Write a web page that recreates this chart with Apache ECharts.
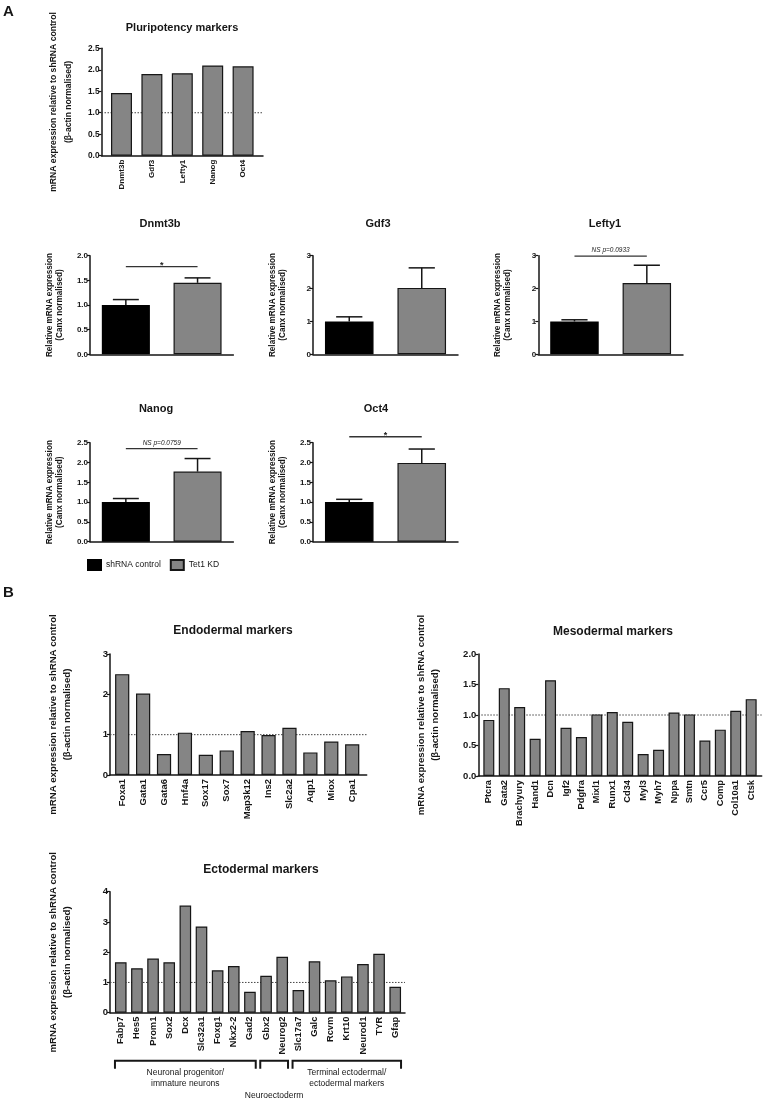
<!DOCTYPE html>
<html><head><meta charset="utf-8">
<script src="https://cdn.jsdelivr.net/npm/echarts@6/dist/echarts.min.js"></script>
<style>html,body{margin:0;padding:0;background:#fff}#c{width:764px;height:1102px}</style>
</head><body><div id="c"></div>
<script>
const FONT = '"Liberation Sans", Arial, Helvetica, sans-serif';
const INK = '#161616';
const GREY = '#858585';

// ---- Panel A: pluripotency summary ----
const pluriCats = ['Dnmt3b', 'Gdf3', 'Lefty1', 'Nanog', 'Oct4'];
const pluriVals = [1.46, 1.90, 1.92, 2.10, 2.08];

// ---- Panel A: individual genes (shRNA control vs Tet1 KD) ----
const geneNames = ['Dnmt3b', 'Gdf3', 'Lefty1', 'Nanog', 'Oct4'];
const groupNames = ['shRNA control', 'Tet1 KD'];
const controlMeans = [1.00, 1.00, 1.00, 1.00, 1.00];
const controlErr = [0.11, 0.14, 0.05, 0.09, 0.07];
const kdMeans = [1.45, 2.02, 2.17, 1.77, 1.99];
const kdErr = [0.10, 0.61, 0.54, 0.33, 0.35];
const sigLevel = [1.78, null, 2.99, 2.35, 2.65];
const sigText = ['*', '', 'NS p=0.0933', 'NS p=0.0759', '*'];
const geneYMax = [2, 3, 3, 2.5, 2.5];
const geneYStep = [0.5, 1, 1, 0.5, 0.5];

// ---- Panel B ----
const endoCats = ['Foxa1', 'Gata1', 'Gata6', 'Hnf4a', 'Sox17', 'Sox7', 'Map3k12', 'Ins2', 'Slc2a2', 'Aqp1', 'Miox', 'Cpa1'];
const endoVals = [2.50, 2.02, 0.52, 1.05, 0.50, 0.61, 1.09, 0.99, 1.17, 0.56, 0.83, 0.76];

const mesoCats = ['Ptcra', 'Gata2', 'Brachyury', 'Hand1', 'Dcn', 'Igf2', 'Pdgfra', 'Mixl1', 'Runx1', 'Cd34', 'Myl3', 'Myh7', 'Nppa', 'Smtn', 'Ccr5', 'Comp', 'Col10a1', 'Ctsk'];
const mesoVals = [0.92, 1.44, 1.13, 0.61, 1.57, 0.79, 0.64, 1.01, 1.05, 0.89, 0.36, 0.43, 1.04, 1.01, 0.58, 0.76, 1.07, 1.26];

const ectoCats = ['Fabp7', 'Hes5', 'Prom1', 'Sox2', 'Dcx', 'Slc32a1', 'Foxg1', 'Nkx2-2', 'Gad2', 'Gbx2', 'Neurog2', 'Slc17a7', 'Galc', 'Rcvm', 'Krt10', 'Neurod1', 'TYR', 'Gfap'];
const ectoVals = [1.67, 1.47, 1.79, 1.67, 3.54, 2.85, 1.40, 1.54, 0.69, 1.22, 1.85, 0.75, 1.70, 1.07, 1.20, 1.61, 1.95, 0.86];
const ectoGroupLabels = ['Neuronal progenitor/\nimmature neurons', 'Neuroectoderm', 'Terminal ectodermal/\nectodermal markers'];
const ectoGroupStart = [0, 9, 11];
const ectoGroupEnd = [8, 10, 17];

const refLevel = 1;

const chart = echarts.init(document.getElementById('c'), null, {renderer: 'canvas'});
const grids = [], xAxes = [], yAxes = [], series = [], titles = [];

function addTitle(text, cx, cy, size) {
  titles.push({text, left: cx, top: cy - size * 0.6, textAlign: 'center', padding: 0,
    textStyle: {fontFamily: FONT, fontWeight: 'bold', fontSize: size, color: INK, lineHeight: size * 1.2}});
}
function addGrid(left, top, width, height) {
  grids.push({left, top, width, height});
  return grids.length - 1;
}
function addY(gi, max, step, dec, name, gap, nameSize, lh, labelSize, offset) {
  yAxes.push({type: 'value', gridIndex: gi, min: 0, max, interval: step, offset: offset || 0,
    name, nameLocation: 'middle', nameGap: gap, nameRotate: 90,
    nameTextStyle: {fontFamily: FONT, fontWeight: 'bold', fontSize: nameSize, lineHeight: lh, color: INK},
    axisLine: {show: true, lineStyle: {color: INK, width: 1.5}},
    axisTick: {show: true, length: 3, lineStyle: {color: INK, width: 1.2}},
    axisLabel: {fontFamily: FONT, fontWeight: 'bold', fontSize: labelSize, color: INK, margin: 2,
      formatter: v => v.toFixed(dec)},
    splitLine: {show: false}});
}
function addX(gi, cats, showLabels, labelSize, showLine) {
  xAxes.push({type: 'category', gridIndex: gi, data: cats,
    axisLine: {show: showLine, lineStyle: {color: INK, width: 1.5}},
    axisTick: {show: false},
    axisLabel: {show: showLabels, rotate: 90, interval: 0, fontFamily: FONT, fontWeight: 'bold',
      fontSize: labelSize, color: INK, margin: 4}});
}

const BIG_NAME = 'mRNA expression relative to shRNA control\n(β-actin normalised)';
const SMALL_NAME = 'Relative mRNA expression\n(Canx normalised)';

// Marker panel: a frame grid (full axis extent: x-axis line + dotted reference)
// and a data grid (categories, slightly inset like the original), y axis offset to the frame edge.
function addMarkerPanel(o) {
  const frame = addGrid(o.axisLeft, o.top, o.axisRight - o.axisLeft, o.height);
  addX(frame, [''], false, 9, true);
  yAxes.push({type: 'value', gridIndex: frame, min: 0, max: o.max, show: false});
  series.push({type: 'custom', xAxisIndex: frame, yAxisIndex: frame, z: 1, silent: true, clip: false,
    data: [[0, refLevel]],
    renderItem: (p, api) => {
      const cs = p.coordSys;
      const y = api.coord([0, api.value(1)])[1];
      return {type: 'line', shape: {x1: cs.x, y1: y, x2: cs.x + cs.width, y2: y},
        style: {stroke: '#444', lineWidth: 1, lineDash: [1.5, 1.5]}};
    }});
  const gi = addGrid(o.catLeft, o.top, o.catRight - o.catLeft, o.height);
  addTitle(o.title, o.tx, o.ty, o.titleSize);
  addX(gi, o.cats, true, o.labelSize, false);
  addY(gi, o.max, o.step, o.dec, o.name, o.gap, o.nameSize, o.lh, o.tickSize, o.catLeft - o.axisLeft);
  series.push({type: 'bar', xAxisIndex: gi, yAxisIndex: gi, data: o.vals, barWidth: o.bw, z: 2,
    itemStyle: {color: GREY, borderColor: INK, borderWidth: 1.2}});
  return gi;
}

// Panel letters
titles.push({text: 'A', left: 3, top: 4, padding: 0, textStyle: {fontFamily: FONT, fontWeight: 'bold', fontSize: 15, color: INK}});
titles.push({text: 'B', left: 3, top: 585, padding: 0, textStyle: {fontFamily: FONT, fontWeight: 'bold', fontSize: 15, color: INK}});

// Pluripotency
addMarkerPanel({axisLeft: 101.5, axisRight: 263, catLeft: 106.3, catRight: 258.3, top: 48.3, height: 107.4,
  title: 'Pluripotency markers', tx: 182, ty: 28, titleSize: 11,
  cats: pluriCats, vals: pluriVals, bw: '69%', labelSize: 8,
  max: 2.5, step: 0.5, dec: 1, name: BIG_NAME, gap: 25, nameSize: 8.6, lh: 15, tickSize: 8.3});

// Individual genes
const geneLayout = [
  {left: 90, top: 255.7, width: 143.4, height: 98.6, tx: 160, ty: 224},
  {left: 313, top: 255.7, width: 145, height: 98.6, tx: 378, ty: 224},
  {left: 538.3, top: 255.7, width: 144.7, height: 98.6, tx: 605, ty: 224},
  {left: 90, top: 442.7, width: 143.4, height: 99, tx: 156, ty: 409},
  {left: 313, top: 442.7, width: 145, height: 99, tx: 376, ty: 409}
];
geneNames.forEach((g, k) => {
  const L = geneLayout[k];
  const idx = addGrid(L.left, L.top, L.width, L.height);
  addTitle(g, L.tx, L.ty, 11);
  addX(idx, groupNames, false, 8, true);
  addY(idx, geneYMax[k], geneYStep[k], geneYStep[k] < 1 ? 1 : 0, SMALL_NAME, 26, 8.2, 9.5, 8);
  series.push({type: 'bar', name: groupNames[0], xAxisIndex: idx, yAxisIndex: idx, barWidth: '67%', barGap: '-100%', z: 2,
    data: [controlMeans[k], '-'], itemStyle: {color: '#000', borderColor: '#000', borderWidth: 1.2}});
  series.push({type: 'bar', name: groupNames[1], xAxisIndex: idx, yAxisIndex: idx, barWidth: '67%', barGap: '-100%', z: 2,
    data: ['-', kdMeans[k]], itemStyle: {color: GREY, borderColor: INK, borderWidth: 1.2}});
  series.push({type: 'custom', xAxisIndex: idx, yAxisIndex: idx, z: 3, clip: false, silent: true,
    data: [[0, controlMeans[k], controlMeans[k] + controlErr[k]], [1, kdMeans[k], kdMeans[k] + kdErr[k]]],
    renderItem: (p, api) => {
      const x = api.value(0);
      const base = api.coord([x, api.value(1)]);
      const top = api.coord([x, api.value(2)]);
      const half = api.size([1, 0])[0] * 0.67 * 0.27;
      return {type: 'group', children: [
        {type: 'line', shape: {x1: base[0], y1: base[1], x2: top[0], y2: top[1]}, style: {stroke: INK, lineWidth: 1.5}},
        {type: 'line', shape: {x1: top[0] - half, y1: top[1], x2: top[0] + half, y2: top[1]}, style: {stroke: INK, lineWidth: 1.5}}
      ]};
    }});
  if (sigLevel[k] != null) {
    series.push({type: 'custom', xAxisIndex: idx, yAxisIndex: idx, z: 4, clip: false, silent: true,
      data: [[0, sigLevel[k]]],
      renderItem: (p, api) => {
        const a = api.coord([0, api.value(1)]);
        const b = api.coord([1, api.value(1)]);
        const star = sigText[k] === '*';
        return {type: 'group', children: [
          {type: 'line', shape: {x1: a[0], y1: a[1], x2: b[0], y2: b[1]}, style: {stroke: '#333', lineWidth: 1.3}},
          {type: 'text', x: (a[0] + b[0]) / 2, y: star ? a[1] - 1 : a[1] - 2,
            style: {text: sigText[k], fontFamily: FONT, fontSize: star ? 9 : 6.5,
              fontStyle: star ? 'normal' : 'italic', fontWeight: star ? 'bold' : 'normal',
              fill: '#222', align: 'center', verticalAlign: star ? 'middle' : 'bottom'}}
        ]};
      }});
  }
});

// Endodermal
addMarkerPanel({axisLeft: 110, axisRight: 366.7, catLeft: 111.75, catRight: 362.65, top: 654, height: 121,
  title: 'Endodermal markers', tx: 233, ty: 631, titleSize: 12,
  cats: endoCats, vals: endoVals, bw: '68%', labelSize: 9.5,
  max: 3, step: 1, dec: 0, name: BIG_NAME, gap: 35.5, nameSize: 9.6, lh: 14, tickSize: 9.5});

// Mesodermal
addMarkerPanel({axisLeft: 478.3, axisRight: 761.7, catLeft: 481.1, catRight: 758.9, top: 654, height: 122,
  title: 'Mesodermal markers', tx: 613, ty: 632, titleSize: 12,
  cats: mesoCats, vals: mesoVals, bw: '71%', labelSize: 9.3,
  max: 2, step: 0.5, dec: 1, name: BIG_NAME, gap: 35.5, nameSize: 9.6, lh: 14, tickSize: 9.5});

// Ectodermal
const ectoGi = addMarkerPanel({axisLeft: 110, axisRight: 405, catLeft: 112.7, catRight: 403.3, top: 891.7, height: 121,
  title: 'Ectodermal markers', tx: 261, ty: 869.5, titleSize: 12,
  cats: ectoCats, vals: ectoVals, bw: '72%', labelSize: 9.3,
  max: 4, step: 1, dec: 0, name: BIG_NAME, gap: 35.5, nameSize: 9.6, lh: 14, tickSize: 9.5});
series.push({type: 'custom', xAxisIndex: ectoGi, yAxisIndex: ectoGi, z: 4, clip: false, silent: true,
  data: ectoGroupStart.map((s, i) => [s, ectoGroupEnd[i], i]),
  renderItem: (p, api) => {
    const s = api.value(0), e = api.value(1), i = api.value(2);
    const bw = api.size([1, 0])[0] * 0.72;
    const ps = api.coord([s, 0]);
    const pe = api.coord([e, 0]);
    const x1 = ps[0] - bw / 2, x2 = pe[0] + bw / 2;
    const yTop = ps[1] + 48, yBot = ps[1] + 56;
    const narrow = (x2 - x1) < 60;
    return {type: 'group', children: [
      {type: 'polyline', shape: {points: [[x1, yBot], [x1, yTop], [x2, yTop], [x2, yBot]]},
        style: {stroke: INK, lineWidth: 2, fill: null}},
      {type: 'text', x: (x1 + x2) / 2, y: ps[1] + (narrow ? 78 : 55),
        style: {text: ectoGroupLabels[i], fontFamily: FONT, fontSize: 8.5, lineHeight: 10.5,
          fill: INK, align: 'center', verticalAlign: 'top'}}
    ]};
  }});

chart.setOption({
  backgroundColor: '#fff',
  animation: false,
  title: titles,
  grid: grids,
  xAxis: xAxes,
  yAxis: yAxes,
  legend: {left: 87, top: 559, padding: 0, itemWidth: 13, itemHeight: 10, itemGap: 9,
    icon: 'rect', selectedMode: false, data: groupNames,
    textStyle: {fontFamily: FONT, fontSize: 8.5, color: INK}},
  series
});
</script>
</body></html>
